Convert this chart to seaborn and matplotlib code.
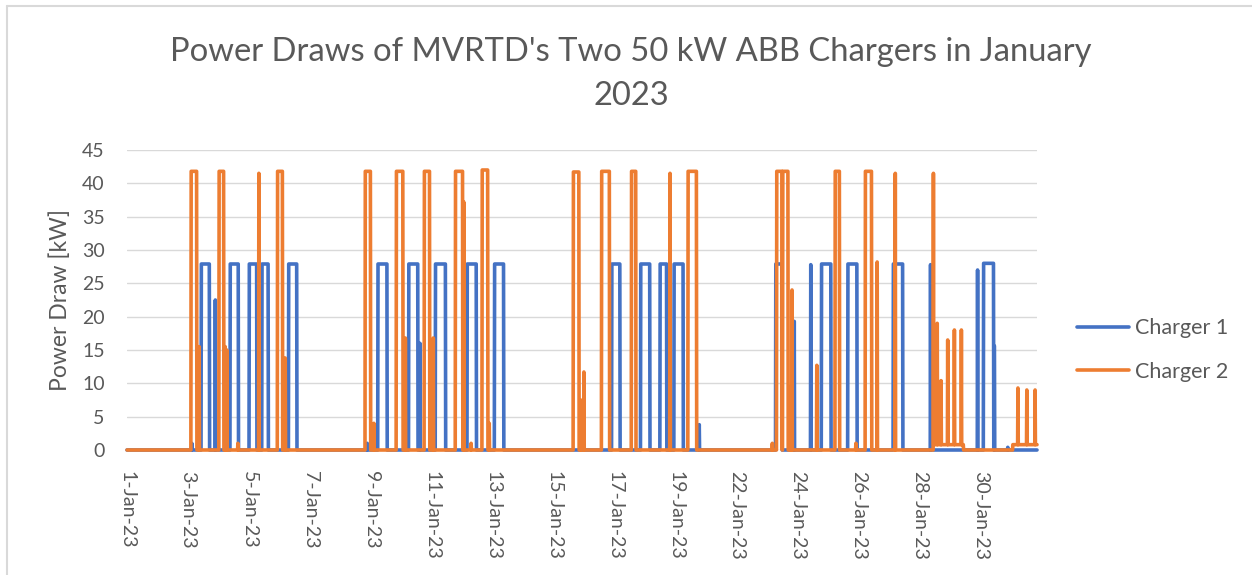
import numpy as np
import pandas as pd
import matplotlib.pyplot as plt
import seaborn as sns
from matplotlib.lines import Line2D

# x positions are in days along the category axis (one day missing between 19 and 22 Jan)
tick_pos = [0, 2, 4, 6, 8, 10, 12, 14, 16, 18, 20, 22, 24, 26, 28]
tick_labels = ["1-Jan-23", "3-Jan-23", "5-Jan-23", "7-Jan-23", "9-Jan-23", "11-Jan-23",
               "13-Jan-23", "15-Jan-23", "17-Jan-23", "19-Jan-23", "22-Jan-23", "24-Jan-23",
               "26-Jan-23", "28-Jan-23", "30-Jan-23"]
last_day = 29.84

# Charger 1 sessions: start, end, power [kW]
c1_start = [2.12, 2.43, 2.90, 3.38, 4.01, 4.42, 5.30, 7.88, 8.22, 9.23, 9.60, 10.11, 11.15, 12.05,
            15.89, 16.84, 17.47, 17.93, 18.76, 21.27, 21.87, 22.42, 22.77, 23.63, 25.12, 26.34,
            27.89, 28.08, 28.42, 28.88]
c1_end = [2.12, 2.70, 2.90, 3.65, 4.26, 4.63, 5.57, 7.88, 8.53, 9.54, 9.60, 10.44, 11.45, 12.35,
          16.16, 17.14, 17.69, 18.23, 18.76, 21.47, 21.87, 22.42, 23.08, 23.93, 25.43, 26.34,
          27.89, 28.41, 28.44, 28.88]
c1_kw = [1.0, 27.9, 22.5, 27.9, 27.9, 27.9, 27.9, 1.0, 27.9, 27.9, 16.0, 27.9, 27.9, 27.9,
         27.9, 27.9, 27.9, 27.9, 3.8, 27.9, 19.3, 27.8, 27.9, 27.9, 27.9, 27.8,
         27.0, 28.0, 15.6, 0.4]

# Charger 2 sessions: start, end, power [kW]
c2_start = [2.10, 2.36, 3.02, 3.22, 3.27, 3.64, 4.32, 4.93, 5.19, 7.81, 8.09, 8.83, 9.13, 9.75,
            10.04, 10.77, 11.04, 11.28, 11.64, 11.87, 14.63, 14.87, 14.98, 15.56, 16.54, 17.80,
            18.39, 21.16, 21.30, 21.50, 21.74, 21.80, 22.61, 23.21, 23.90, 24.20, 24.59, 25.19,
            26.44, 26.44, 26.56, 26.69, 26.91, 27.13, 27.35, 29.04, 29.21, 29.50, 29.77]
c2_end = [2.29, 2.36, 3.17, 3.22, 3.27, 3.64, 4.32, 5.10, 5.19, 7.98, 8.09, 9.05, 9.13, 9.92,
          10.04, 11.01, 11.04, 11.28, 11.83, 11.87, 14.82, 14.87, 14.98, 15.82, 16.68, 17.80,
          18.67, 21.16, 21.47, 21.67, 21.74, 21.80, 22.61, 23.36, 23.90, 24.41, 24.59, 25.19,
          27.42, 26.44, 26.56, 26.69, 26.91, 27.13, 27.35, 29.84, 29.21, 29.50, 29.77]
c2_kw = [41.8, 15.5, 41.8, 15.5, 15.0, 1.0, 41.5, 41.8, 13.8, 41.8, 4.0, 41.8, 16.8, 41.8,
         16.8, 41.8, 37.2, 1.0, 42.0, 4.0, 41.7, 7.5, 11.7, 41.8, 41.8, 41.5,
         41.8, 1.0, 41.8, 41.8, 9.5, 24.0, 12.7, 41.8, 1.0, 41.8, 28.2, 41.5,
         0.8, 41.5, 19.0, 10.4, 16.5, 18.0, 18.0, 0.8, 9.3, 9.0, 9.0]

# 15-minute readings
step = 1 / 96
t = np.arange(0, last_day + 1e-6, step)


def readings(starts, ends, kws):
    p = np.zeros_like(t)
    for s, e, k in zip(starts, ends, kws):
        if e - s < step:
            mask = np.abs(t - s) <= step / 2
        else:
            mask = (t >= s) & (t <= e)
        p[mask] = np.maximum(p[mask], k)
    return p


df = pd.concat([
    pd.DataFrame({"day": t, "kW": readings(c1_start, c1_end, c1_kw), "Series": "Charger 1"}),
    pd.DataFrame({"day": t, "kW": readings(c2_start, c2_end, c2_kw), "Series": "Charger 2"}),
])

text_color = "#595959"
sns.set_style("white")
plt.rcParams["font.family"] = ["Lato", "DejaVu Sans"]

fig = plt.figure(figsize=(12.52, 5.75), dpi=100)
ax = fig.add_axes([127 / 1252, 1 - 450 / 575, 910 / 1252, 300 / 575])

sns.lineplot(data=df, x="day", y="kW", hue="Series", palette=["#4472C4", "#ED7D31"],
             linewidth=2.6, estimator=None, ax=ax, solid_joinstyle="round",
             solid_capstyle="round")
for line in ax.lines:
    line.set_clip_on(False)

ax.set_xlim(0, t[-1])
ax.set_ylim(0, 45)
ax.set_yticks(range(0, 46, 5))
ax.set_xticks(tick_pos)
ax.set_xticklabels(tick_labels, rotation=-90, fontsize=14, color=text_color)
ax.tick_params(axis="y", labelsize=14, labelcolor=text_color, length=0, pad=16)
ax.tick_params(axis="x", length=0, pad=15)
ax.yaxis.grid(True, color="#D9D9D9", linewidth=1)
ax.set_axisbelow(True)
for s in ax.spines.values():
    s.set_visible(False)
ax.set_xlabel("")
ax.set_ylabel("Power Draw [kW]", fontsize=16.5, color=text_color, labelpad=8)

ax.legend(loc="center left", bbox_to_anchor=(1.044, 0.333), frameon=False, fontsize=15.5,
          handlelength=2.4, handletextpad=0.3, labelspacing=1.1, borderpad=0,
          borderaxespad=0, labelcolor=text_color)

fig.text(0.504, 1 - 74 / 575, "Power Draws of MVRTD's Two 50 kW ABB Chargers in January\n2023",
         ha="center", va="center", fontsize=23.6, color=text_color, linespacing=1.62)

# chart border
fig.add_artist(Line2D([7 / 1252, 7 / 1252], [0, 1 - 6 / 575], color="#D9D9D9", linewidth=1.5))
fig.add_artist(Line2D([7 / 1252, 1], [1 - 6 / 575, 1 - 6 / 575], color="#D9D9D9", linewidth=1.5))

fig.savefig("out.png", dpi=100)
